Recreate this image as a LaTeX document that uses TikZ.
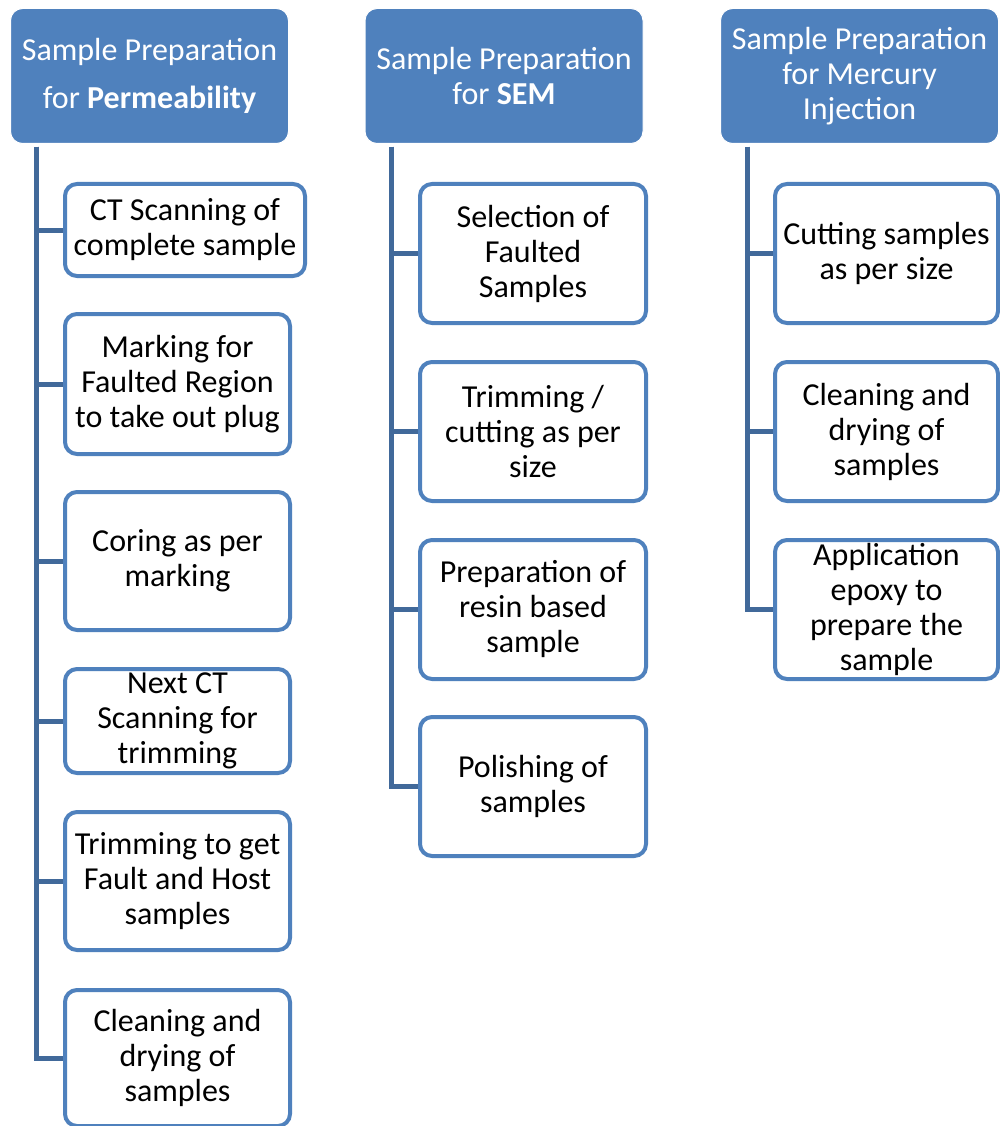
\documentclass[tikz,border=0pt]{standalone}
\usepackage{fontspec}
\setmainfont{Carlito}
\definecolor{hblue}{HTML}{4F81BD}
\definecolor{bblue}{HTML}{4F81BD}
\definecolor{cblue}{HTML}{41699A}
\begin{document}
\begin{tikzpicture}[x=1pt,y=-1pt,
  txt/.style={font=\fontsize{32}{35}\selectfont, align=center, inner sep=0pt},
  hdr/.style={txt, draw=white, line width=1pt, fill=hblue, rounded corners=12pt, text=white, minimum width=278pt, minimum height=135pt},
  item/.style={txt, draw=bblue, line width=4pt, fill=white, rounded corners=12pt, text=black},
  conn/.style={draw=cblue, line width=5pt, line join=miter}]
\useasboundingbox[fill=white] (0,0) rectangle (1000,1126);

% headers
\node[hdr] (h1) at (149.5,76) {Sample Preparation\\[13pt]for \textbf{Permeability}};
\node[hdr] (h2) at (504,76) {Sample Preparation\\for \textbf{SEM}};
\node[hdr] (h3) at (859.5,76) {Sample Preparation\\for Mercury\\Injection};

% column 1
\node[item, minimum width=240pt, minimum height=92pt] (c11) at (185,230) {CT Scanning of\\complete sample};
\node[item, minimum width=225pt, minimum height=140pt] (c12) at (177.5,384) {Marking for\\Faulted Region\\to take out plug};
\node[item, minimum width=225pt, minimum height=138pt] (c13) at (177.5,561) {Coring as per\\marking};
\node[item, minimum width=225pt, minimum height=104pt] (c14) at (177.5,721) {Next CT\\Scanning for\\trimming};
\node[item, minimum width=225pt, minimum height=138pt] (c15) at (177.5,881) {Trimming to get\\Fault and Host\\samples};
\node[item, minimum width=225pt, minimum height=136pt] (c16) at (177.5,1058) {Cleaning and\\drying of\\samples};

% column 2
\node[item, minimum width=226pt, minimum height=139pt] (c21) at (533,253.5) {Selection of\\Faulted\\Samples};
\node[item, minimum width=226pt, minimum height=139pt] (c22) at (533,431.5) {Trimming /\\cutting as per\\size};
\node[item, minimum width=226pt, minimum height=139pt] (c23) at (533,609.5) {Preparation of\\resin based\\sample};
\node[item, minimum width=226pt, minimum height=139pt] (c24) at (533,786.5) {Polishing of\\samples};

% column 3
\node[item, minimum width=223pt, minimum height=139pt] (c31) at (886.5,253.5) {Cutting samples\\as per size};
\node[item, minimum width=223pt, minimum height=139pt] (c32) at (886.5,431.5) {Cleaning and\\drying of\\samples};
\node[item, minimum width=223pt, minimum height=139pt] (c33) at (886.5,609.5) {Application\\epoxy to\\prepare the\\sample};

% trunks
\coordinate (t1) at (36,147);
\coordinate (t2) at (391,147);
\coordinate (t3) at (747,147);

\foreach \n in {c11,c12,c13,c14,c15,c16} \draw[conn] (t1) |- (\n.west);
\foreach \n in {c21,c22,c23,c24} \draw[conn] (t2) |- (\n.west);
\foreach \n in {c31,c32,c33} \draw[conn] (t3) |- (\n.west);
\end{tikzpicture}
\end{document}
